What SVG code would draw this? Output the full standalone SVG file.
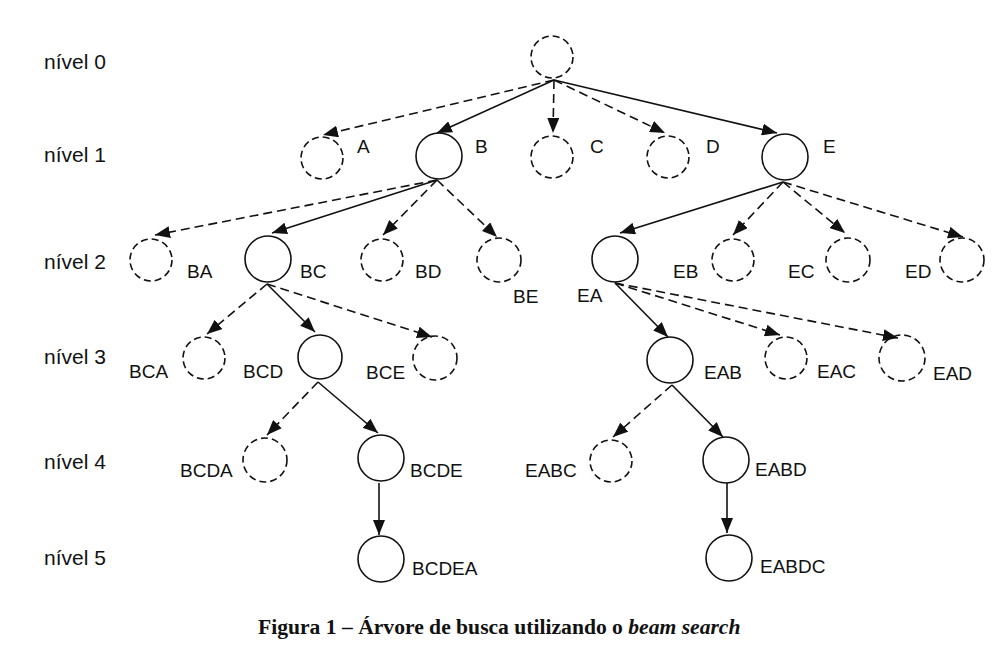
<svg xmlns="http://www.w3.org/2000/svg" width="1000" height="668" viewBox="0 0 1000 668">
<style>
.bg{fill:#fff}
.n circle{fill:none;stroke:#111;stroke-width:1.6}
.n.d circle{stroke-dasharray:7 4}
.lbl{font-family:"Liberation Sans",Arial,sans-serif;font-size:19px;fill:#111}
.lvl{font-family:"Liberation Sans",Arial,sans-serif;font-size:21px;fill:#111}
.e{fill:none;stroke:#111;stroke-width:1.6;marker-end:url(#ah)}
.e.d{stroke-dasharray:9 5}
.cap{font-family:"Liberation Serif","Times New Roman",serif;font-size:21.6px;font-weight:bold;fill:#111}
</style>
<defs>
<marker id="ah" markerUnits="userSpaceOnUse" markerWidth="15" markerHeight="12" refX="15" refY="6" orient="auto">
<path d="M0,0 L15,6 L0,12 z" fill="#111"/>
</marker>
</defs>
<rect class="bg" width="1000" height="668"/>
<g id="levels">
<text class="lvl" x="44" y="69">nível 0</text>
<text class="lvl" x="44" y="162">nível 1</text>
<text class="lvl" x="44" y="269">nível 2</text>
<text class="lvl" x="44" y="364">nível 3</text>
<text class="lvl" x="44" y="469">nível 4</text>
<text class="lvl" x="44" y="565">nível 5</text>
</g>
<g id="connectors">
<line class="e d" x1="554" y1="80" x2="323" y2="135"/>
<line class="e" x1="554" y1="80" x2="437" y2="133"/>
<line class="e d" x1="554" y1="80" x2="553" y2="133"/>
<line class="e d" x1="554" y1="80" x2="665" y2="133"/>
<line class="e" x1="554" y1="80" x2="777" y2="133"/>
<line class="e d" x1="437" y1="180" x2="155" y2="235"/>
<line class="e" x1="437" y1="180" x2="272" y2="233"/>
<line class="e d" x1="437" y1="180" x2="383" y2="235"/>
<line class="e d" x1="437" y1="180" x2="497" y2="237"/>
<line class="e" x1="783" y1="182" x2="620" y2="233"/>
<line class="e d" x1="783" y1="182" x2="733" y2="235"/>
<line class="e d" x1="783" y1="182" x2="845" y2="233"/>
<line class="e d" x1="783" y1="182" x2="963" y2="237"/>
<line class="e d" x1="267" y1="284" x2="207" y2="334"/>
<line class="e" x1="267" y1="284" x2="315" y2="332"/>
<line class="e d" x1="267" y1="284" x2="432" y2="337"/>
<line class="e d" x1="318" y1="382" x2="267" y2="435"/>
<line class="e" x1="318" y1="382" x2="378" y2="433"/>
<line class="e" x1="379" y1="483" x2="379" y2="535"/>
<line class="e" x1="615" y1="283" x2="668" y2="337"/>
<line class="e d" x1="615" y1="283" x2="780" y2="335"/>
<line class="e d" x1="615" y1="283" x2="898" y2="338"/>
<line class="e d" x1="672" y1="385" x2="613" y2="437"/>
<line class="e" x1="672" y1="385" x2="723" y2="437"/>
<line class="e" x1="727" y1="483" x2="727" y2="533"/>
</g>
<g id="root" class="n d"><circle cx="552" cy="57" r="21"/></g>
<g id="A" class="n d"><circle cx="322" cy="158" r="21"/><text class="lbl" x="357" y="153">A</text></g>
<g id="B" class="n"><circle cx="439" cy="156" r="23"/><text class="lbl" x="475" y="153">B</text></g>
<g id="C" class="n d"><circle cx="552" cy="157" r="21"/><text class="lbl" x="590" y="153">C</text></g>
<g id="D" class="n d"><circle cx="668" cy="157" r="21"/><text class="lbl" x="706" y="153">D</text></g>
<g id="E" class="n"><circle cx="785" cy="157" r="23"/><text class="lbl" x="823" y="153">E</text></g>
<g id="BA" class="n d"><circle cx="151" cy="260" r="21"/><text class="lbl" x="187" y="278">BA</text></g>
<g id="BC" class="n"><circle cx="268" cy="259" r="23"/><text class="lbl" x="300" y="278">BC</text></g>
<g id="BD" class="n d"><circle cx="382" cy="260" r="21"/><text class="lbl" x="415" y="278">BD</text></g>
<g id="BE" class="n d"><circle cx="499" cy="260" r="22"/><text class="lbl" x="513" y="303">BE</text></g>
<g id="EA" class="n"><circle cx="615" cy="259" r="23"/><text class="lbl" x="577" y="302">EA</text></g>
<g id="EB" class="n d"><circle cx="733" cy="260" r="21"/><text class="lbl" x="673" y="278">EB</text></g>
<g id="EC" class="n d"><circle cx="848" cy="260" r="22"/><text class="lbl" x="788" y="278">EC</text></g>
<g id="ED" class="n d"><circle cx="962" cy="260" r="22"/><text class="lbl" x="905" y="278">ED</text></g>
<g id="BCA" class="n d"><circle cx="204" cy="358" r="21"/><text class="lbl" x="129" y="378">BCA</text></g>
<g id="BCD" class="n"><circle cx="320" cy="357" r="22"/><text class="lbl" x="243" y="378">BCD</text></g>
<g id="BCE" class="n d"><circle cx="435" cy="358" r="22"/><text class="lbl" x="366" y="379">BCE</text></g>
<g id="EAB" class="n"><circle cx="670" cy="360" r="23"/><text class="lbl" x="704" y="379">EAB</text></g>
<g id="EAC" class="n d"><circle cx="786" cy="358" r="21"/><text class="lbl" x="817" y="378">EAC</text></g>
<g id="EAD" class="n d"><circle cx="902" cy="358" r="23"/><text class="lbl" x="933" y="380">EAD</text></g>
<g id="BCDA" class="n d"><circle cx="265" cy="460" r="22"/><text class="lbl" x="180" y="477">BCDA</text></g>
<g id="BCDE" class="n"><circle cx="381" cy="458" r="23"/><text class="lbl" x="410" y="477">BCDE</text></g>
<g id="EABC" class="n d"><circle cx="611" cy="461" r="21"/><text class="lbl" x="525" y="477">EABC</text></g>
<g id="EABD" class="n"><circle cx="726" cy="460" r="23"/><text class="lbl" x="755" y="476">EABD</text></g>
<g id="BCDEA" class="n"><circle cx="381" cy="559" r="23"/><text class="lbl" x="412" y="575">BCDEA</text></g>
<g id="EABDC" class="n"><circle cx="729" cy="558" r="23"/><text class="lbl" x="760" y="573">EABDC</text></g>
<text class="cap" x="258" y="634">Figura 1 – Árvore de busca utilizando o <tspan font-style="italic">beam search</tspan></text>
</svg>
